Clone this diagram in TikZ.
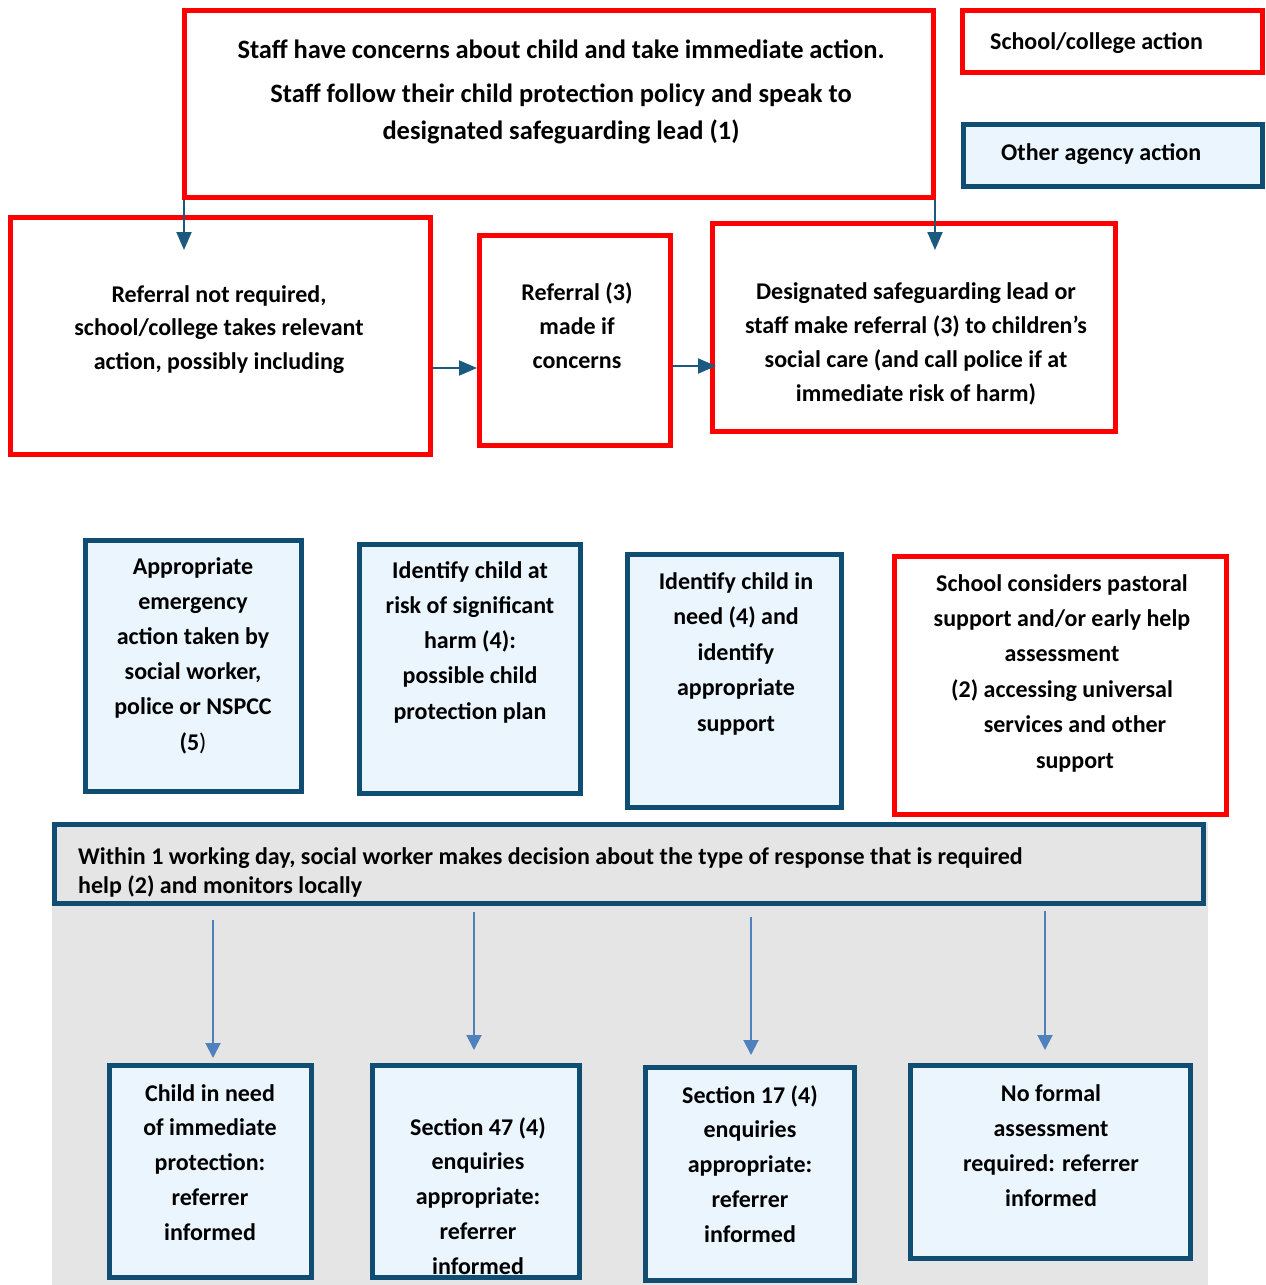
\documentclass[tikz,border=0pt]{standalone}
\usepackage{fontspec}
\setmainfont{Carlito}
\usetikzlibrary{arrows.meta}
\definecolor{redc}{HTML}{FF0000}
\definecolor{bluec}{HTML}{0F4D73}
\definecolor{fillc}{HTML}{EAF5FD}
\definecolor{greyc}{HTML}{E5E5E5}
\definecolor{arrc}{HTML}{1B5A7E}
\definecolor{arrb}{HTML}{4F81BD}
\tikzset{
  redbox/.style={draw=redc, line width=5pt, fill=white, inner sep=0pt},
  bluebox/.style={draw=bluec, line width=5pt, fill=fillc, inner sep=0pt},
  txt/.style={font=\bfseries\fontsize{24}{#1}\selectfont, align=center, anchor=base, inner sep=0pt},
  txt/.default=35,
  ltxt/.style={font=\bfseries\fontsize{24}{29}\selectfont, align=left, anchor=base west, inner sep=0pt},
  darr/.style={draw=arrc, line width=2pt, -{Triangle[width=15pt,length=18pt]}},
  barr/.style={draw=arrb, line width=2pt, -{Triangle[width=15pt,length=15pt]}},
}
\begin{document}
\begin{tikzpicture}[x=1pt,y=-1pt]
\useasboundingbox (0,0) rectangle (1266,1285);
\fill[greyc] (52,822) rectangle (1208,1285);
% top row
\node[redbox, minimum width=749pt, minimum height=187pt] (top) at (559,104) {};
\node[redbox, minimum width=300pt, minimum height=62pt] (leg1) at (1112.5,41.5) {};
\node[bluebox, minimum width=299pt, minimum height=62pt] (leg2) at (1113,155.5) {};
\node[redbox, minimum width=420pt, minimum height=237pt] (refnot) at (220.5,336) {};
\node[redbox, minimum width=191pt, minimum height=210pt] (ref3) at (575,340.5) {};
\node[redbox, minimum width=403pt, minimum height=208pt] (desig) at (914,327.5) {};
% middle row
\node[bluebox, minimum width=216pt, minimum height=251pt] (approp) at (193.5,666) {};
\node[bluebox, minimum width=221pt, minimum height=249pt] (risk) at (470,669) {};
\node[bluebox, minimum width=214pt, minimum height=253pt] (need) at (734.5,681) {};
\node[redbox, minimum width=332pt, minimum height=258pt] (school) at (1060.5,685.5) {};
% banner
\node[draw=bluec, line width=5pt, fill=greyc, inner sep=0pt, minimum width=1149pt, minimum height=79pt] (banner) at (629,864) {};
% bottom row
\node[bluebox, minimum width=202pt, minimum height=212pt] (cin) at (210.5,1171.5) {};
\node[bluebox, minimum width=207pt, minimum height=212pt] (s47) at (476,1171.5) {};
\node[bluebox, minimum width=209pt, minimum height=213pt] (s17) at (750,1174) {};
\node[bluebox, minimum width=280pt, minimum height=193pt] (nof) at (1050.5,1162) {};

% texts (anchor = baseline of last line)
\node[txt, font=\bfseries\fontsize{26.5}{35}\selectfont] (ttop) at (561,139) {\makebox[647pt][s]{Staff have concerns about child and take immediate action.}\\[9pt]Staff follow their child protection policy and speak to\\[2pt]designated safeguarding lead (1)};
\node[ltxt] (tleg1) at (990,49) {School/college action};
\node[ltxt] (tleg2) at (1001,160) {Other agency action};
\node[txt=33.5] (trefnot) at (219,369) {Referral not required,\\school/college takes relevant\\action, possibly including};
\node[txt=34] (tref3) at (577,368) {Referral (3)\\made if\\concerns};
\node[txt=33.7] (tdesig) at (916,401) {Designated safeguarding lead or\\staff make referral (3) to children’s\\social care (and call police if at\\immediate risk of harm)};
\node[txt=35.2] (tapprop) at (193,750) {Appropriate\\emergency\\action taken by\\social worker,\\police or NSPCC\\(5\textmd{)}};
\node[txt=35.25] (trisk) at (470,719) {Identify child at\\risk of significant\\harm (4):\\possible child\\protection plan};
\node[txt=35.5] (tneed) at (736,731) {Identify child in\\need (4) and\\identify\\appropriate\\support};
\node[txt=35.4] (tschool) at (1062,768) {School considers pastoral\\support and/or early help\\assessment\\(2) accessing universal\\\hspace*{26pt}services and other\\\hspace*{26pt}support};
\node[ltxt] (tbanner) at (78,893) {Within 1 working day, social worker makes decision about the type of response that is required\\help (2) and monitors locally};
\node[txt=34.75] (tcin) at (210,1240) {Child in need\\of immediate\\protection:\\referrer\\informed};
\node[txt=34.75] (ts47) at (478,1274) {Section 47 (4)\\enquiries\\appropriate:\\referrer\\informed};
\node[txt=34.75] (ts17) at (750,1242) {Section 17 (4)\\enquiries\\appropriate:\\referrer\\informed};
\node[txt] (tnof) at (1051,1206) {No formal\\assessment\\required: referrer\\informed};

% connectors
\coordinate (a1) at (184,250);
\coordinate (a2) at (935,250);
\draw[darr] (top.south west -| a1) -- (a1);
\draw[darr] (top.south west -| a2) -- (a2);
\coordinate (r1) at (0,368);
\coordinate (r2) at (716,366);
\draw[darr] (refnot.east |- r1) -- (ref3.west |- r1);
\draw[darr] (ref3.east |- r2) -- (r2);
\coordinate (b1s) at (213,920); \coordinate (b1e) at (213,1058);
\coordinate (b2s) at (474,912); \coordinate (b2e) at (474,1050);
\coordinate (b3s) at (751,917); \coordinate (b3e) at (751,1055);
\coordinate (b4s) at (1045,911); \coordinate (b4e) at (1045,1050);
\draw[barr] (b1s) -- (b1e);
\draw[barr] (b2s) -- (b2e);
\draw[barr] (b3s) -- (b3e);
\draw[barr] (b4s) -- (b4e);
\end{tikzpicture}
\end{document}
